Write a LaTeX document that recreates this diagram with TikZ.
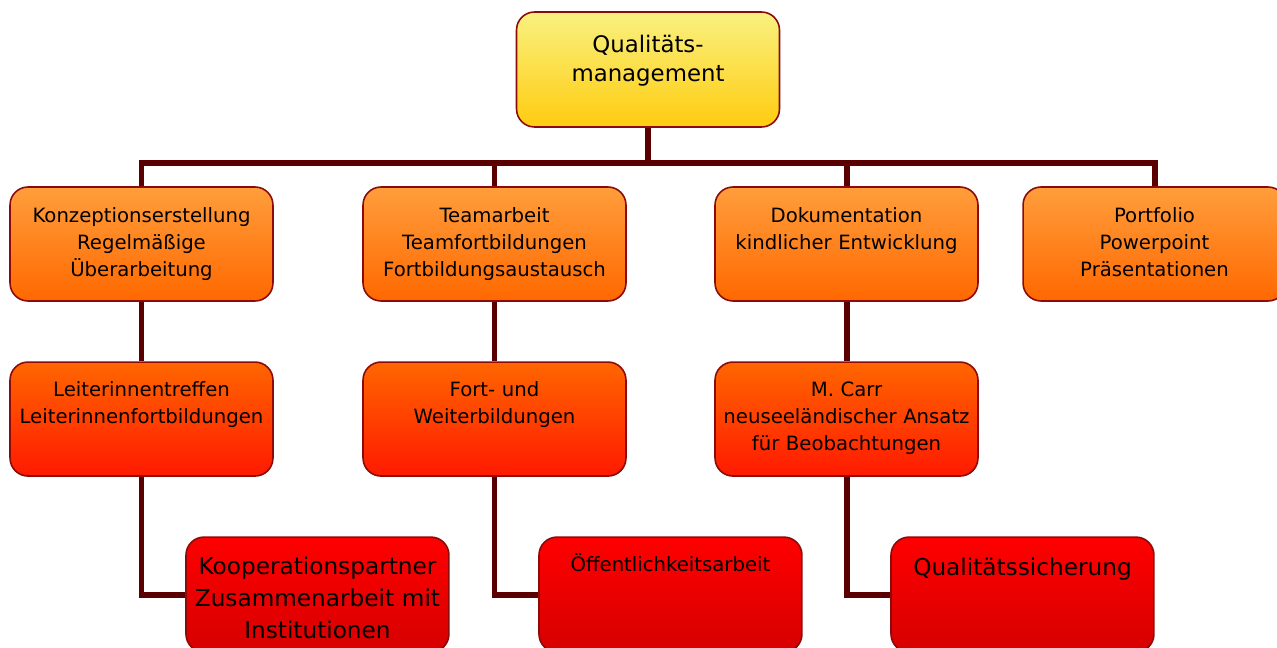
\documentclass[tikz,border=0pt]{standalone}
\usepackage{fontspec}
\setmainfont{DejaVu Sans}
\usetikzlibrary{positioning}
\definecolor{qmtop}{RGB}{249,241,128}
\definecolor{qmbottom}{RGB}{255,204,16}
\definecolor{onetop}{RGB}{255,158,60}
\definecolor{onebottom}{RGB}{255,104,0}
\definecolor{twotop}{RGB}{255,102,0}
\definecolor{twobottom}{RGB}{255,26,0}
\definecolor{threetop}{RGB}{255,0,0}
\definecolor{threebottom}{RGB}{214,0,0}
\definecolor{boxborder}{RGB}{140,10,10}
\definecolor{linkbrown}{RGB}{90,0,0}
\tikzset{
node distance=1.19cm, % gap between two rows of boxes
box/.style={draw=boxborder, line width=0.9pt, rounded corners=0.36cm, text width=5.26cm, align=center, inner xsep=0pt, inner ysep=0pt}, % every box of the chart
link/.style={draw=linkbrown, line width=3.4pt}, % the brown connectors
}
\tikzset{
  head/.style={box, top color=qmtop, bottom color=qmbottom, font=\fontsize{13}{16.5}\selectfont, text height=0.82cm, text depth=1.48cm},
  rowone/.style={box, top color=onetop, bottom color=onebottom, font=\fontsize{11.2}{15.4}\selectfont, text height=0.70cm, text depth=1.58cm},
  rowtwo/.style={rowone, top color=twotop, bottom color=twobottom, text height=0.69cm, text depth=1.59cm},
  rowthree/.style={box, top color=threetop, bottom color=threebottom, font=\fontsize{13.2}{18.2}\selectfont, text height=0.74cm, text depth=1.56cm}
}

\begin{document}
\begin{tikzpicture}[x=0.02cm, y=-0.02cm]
      \useasboundingbox (0,0) rectangle (1277,648);

      \node[head] (qm) at (648,69.5) {Qualitäts-\\management};
      \node[rowone] (konz) at (141.5,244) {Konzeptionserstellung\\Regelmäßige\\Überarbeitung};
      \node[rowone] (team) at (494.5,244) {Teamarbeit\\Teamfortbildungen\\Fortbildungsaustausch};
      \node[rowone] (doku) at (846.5,244) {Dokumentation\\kindlicher Entwicklung};
      \node[rowone] (port) at (1154.5,244) {Portfolio\\Powerpoint\\Präsentationen};
      \node[rowtwo, below=of konz] (leit) {Leiterinnentreffen\\Leiterinnenfortbildungen};
      \node[rowtwo, below=of team] (fort) {Fort- und\\Weiterbildungen};
      \node[rowtwo, below=of doku] (carr) {M. Carr\\neuseeländischer Ansatz\\für Beobachtungen};
      \node[rowthree, below=of leit, xshift=3.52cm] (koop) {Kooperationspartner\\Zusammenarbeit mit\\Institutionen};
      \node[rowthree, below=of fort, xshift=3.52cm, font=\fontsize{11.2}{15.4}\selectfont, text height=0.68cm, text depth=1.62cm] (oeff) {Öffentlichkeitsarbeit};
      \node[rowthree, below=of carr, xshift=3.52cm, text height=0.76cm, text depth=1.54cm] (qs) {Qualitätssicherung};
      \coordinate[below=0.7cm of qm.south] (hub);

      \draw[link] (qm.south) -- (hub) -| (konz.north)
      (hub) -| (team.north)
      (hub) -| (doku.north)
      (hub) -| (port.north);
      \draw[link] (konz) edge (leit)
      (team) edge (fort)
      (doku) edge (carr);
      \draw[link] (leit.south) |- (koop.west)
      (fort.south) |- (oeff.west)
      (carr.south) |- (qs.west);
    \end{tikzpicture}
\end{document}
